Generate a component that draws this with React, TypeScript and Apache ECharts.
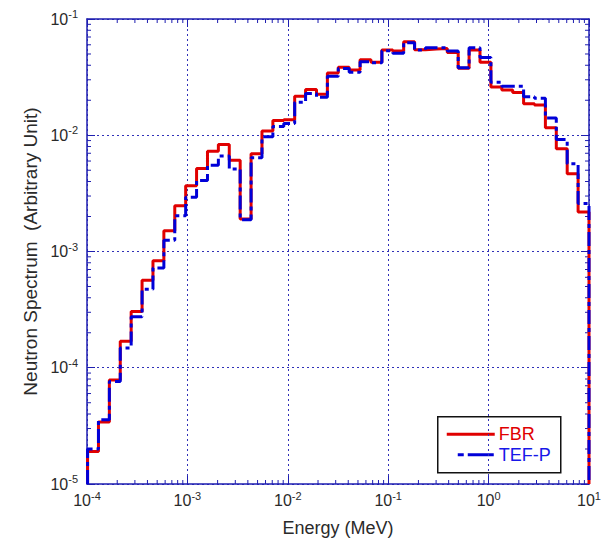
import React, { useEffect, useRef } from "react";
import * as echarts from "echarts";

// Group boundaries (MeV), equal lethargy width 0.25, ascending
const binEdges = [
  1.0130e-4, 1.3007e-4, 1.6702e-4, 2.1445e-4, 2.7536e-4, 3.5357e-4, 4.5400e-4, 5.8295e-4,
  7.4852e-4, 9.6112e-4, 1.2341e-3, 1.5846e-3, 2.0347e-3, 2.6126e-3, 3.3546e-3, 4.3074e-3,
  5.5308e-3, 7.1017e-3, 9.1188e-3, 1.1709e-2, 1.5034e-2, 1.9305e-2, 2.4788e-2, 3.1828e-2,
  4.0868e-2, 5.2475e-2, 6.7379e-2, 8.6517e-2, 0.11109, 0.14264, 0.18316, 0.23518,
  0.30197, 0.38774, 0.49787, 0.63928, 0.82085, 1.0540, 1.3534, 1.7377,
  2.2313, 2.8650, 3.6788, 4.7237, 6.0653, 7.7880, 10.0,
];

const fbrValues = [
  1.9e-5, 3.41e-5, 7.86e-5, 1.69e-4, 3.05e-4, 5.65e-4, 8.31e-4, 1.51e-3,
  2.47e-3, 3.68e-3, 5.18e-3, 7.3e-3, 8.32e-3, 6.1e-3, 1.9e-3, 6.93e-3,
  1.09e-2, 1.34e-2, 1.36e-2, 2.17e-2, 2.48e-2, 2.25e-2, 3.44e-2, 3.85e-2,
  3.65e-2, 4.46e-2, 4.24e-2, 5.41e-2, 5.31e-2, 6.37e-2, 5.45e-2, 5.52e-2,
  5.58e-2, 5.14e-2, 3.77e-2, 5.41e-2, 4.24e-2, 2.6e-2, 2.45e-2, 2.33e-2,
  1.87e-2, 1.82e-2, 1.16e-2, 7.64e-3, 4.67e-3, 2.19e-3,
];

const tefpValues = [
  2.0e-5, 3.57e-5, 7.62e-5, 1.48e-4, 2.75e-4, 4.74e-4, 7.23e-4, 1.25e-3,
  2.03e-3, 2.93e-3, 4.08e-3, 5.53e-3, 6.62e-3, 5.12e-3, 1.88e-3, 6.41e-3,
  9.7e-3, 1.19e-2, 1.26e-2, 1.92e-2, 2.29e-2, 2.12e-2, 3.21e-2, 3.76e-2,
  3.49e-2, 4.28e-2, 4.2e-2, 5.32e-2, 5.07e-2, 6.24e-2, 5.4e-2, 5.66e-2,
  5.66e-2, 5.31e-2, 3.8e-2, 5.66e-2, 4.67e-2, 2.85e-2, 2.64e-2, 2.64e-2,
  2.14e-2, 2.08e-2, 1.41e-2, 9.2e-3, 5.7e-3, 2.59e-3,
];

const seriesNames = ["FBR", "TEF-P"];
const xRange = [1e-4, 10];
const yRange = [1e-5, 1e-1];
const xTitle = "Energy (MeV)";
const yTitle = "Neutron Spectrum  (Arbitrary Unit)";

const FONT = "'Liberation Sans', Arial, sans-serif";
const AXIS_COLOR = "#1e1eb0";
const GRID_COLOR = "#3030b8";
const LABEL_COLOR = "#2a2a2a";
const RED = "#e00000";
const BLUE = "#0000d8";

function stepPoints(vals: number[]) {
  const pts: number[][] = [[binEdges[0], yRange[0]]];
  vals.forEach((v, i) => {
    pts.push([binEdges[i], v]);
    pts.push([binEdges[i + 1], v]);
  });
  pts.push([binEdges[binEdges.length - 1], yRange[0]]);
  return pts;
}

function minorValues(lo: number, hi: number) {
  const out: number[] = [];
  for (let d = lo; d < hi; d *= 10) {
    for (let m = 2; m <= 9; m++) out.push(d * m);
  }
  return out;
}

const expLabel = (value: number) => {
  const e = Math.round(Math.log10(value));
  return "{b|10}{s|" + e + "}";
};

const richLabel = {
  b: { fontSize: 16, fontFamily: FONT, color: LABEL_COLOR },
  s: { fontSize: 11, fontFamily: FONT, color: LABEL_COLOR, padding: [0, 0, 10, 0] },
};

export default function App() {
  const ref = useRef<HTMLDivElement>(null);

  useEffect(() => {
    if (!ref.current) return;
    const chart = echarts.init(ref.current, null, { renderer: "svg" });

    const tickLineStyle = { color: AXIS_COLOR, width: 1 };
    const baseAxis = {
      type: "log" as const,
      logBase: 10,
      axisLine: { show: true, lineStyle: { color: AXIS_COLOR, width: 1.5 } },
      axisTick: { show: true, inside: true, length: 8, lineStyle: tickLineStyle },
      minorTick: { show: false },
    };

    const xMinor = minorValues(xRange[0], xRange[1]).map((v) => [v, 1e-3]);
    const yMinor = minorValues(yRange[0], yRange[1]).map((v) => [1, v]);

    const lgX = 437;
    const lgY = 416;
    const gridLine = { show: true, lineStyle: { color: GRID_COLOR, type: [2, 3], width: 1 } };

    chart.setOption({
      animation: false,
      backgroundColor: "#ffffff",
      grid: { left: 87, top: 19, width: 502, height: 475, containLabel: false },
      graphic: [
        {
          type: "group",
          left: lgX,
          top: lgY,
          z: 100,
          children: [
            {
              type: "rect",
              shape: { x: 0, y: 0, width: 123, height: 56 },
              style: { fill: "#ffffff", stroke: "#111111", lineWidth: 1.5 },
            },
            {
              type: "line",
              shape: { x1: 9, y1: 17.5, x2: 57, y2: 17.5 },
              style: { stroke: RED, lineWidth: 3 },
            },
            {
              type: "text",
              x: 61,
              y: 17.5,
              style: {
                text: seriesNames[0],
                fill: RED,
                font: "18px " + FONT,
                verticalAlign: "middle",
              },
            },
            {
              type: "line",
              shape: { x1: 20, y1: 38, x2: 56, y2: 38 },
              style: { stroke: BLUE, lineWidth: 3, lineDash: [6, 4, 30, 0] },
            },
            {
              type: "text",
              x: 61,
              y: 38,
              style: {
                text: seriesNames[1],
                fill: "#1818e8",
                font: "18px " + FONT,
                verticalAlign: "middle",
              },
            },
          ],
        },
      ],
      xAxis: [
        {
          ...baseAxis,
          min: xRange[0],
          max: xRange[1],
          position: "bottom",
          name: xTitle,
          nameLocation: "middle",
          nameGap: 35,
          nameTextStyle: { fontFamily: FONT, fontSize: 18, color: LABEL_COLOR },
          axisLabel: { formatter: expLabel, rich: richLabel, margin: 6 },
          splitLine: gridLine,
        },
        {
          ...baseAxis,
          min: xRange[0],
          max: xRange[1],
          position: "top",
          axisLabel: { show: false },
          splitLine: { show: false },
        },
      ],
      yAxis: [
        {
          ...baseAxis,
          min: yRange[0],
          max: yRange[1],
          position: "left",
          name: yTitle,
          nameLocation: "middle",
          nameGap: 46,
          nameTextStyle: { fontFamily: FONT, fontSize: 19, color: LABEL_COLOR },
          axisLabel: { formatter: expLabel, rich: richLabel, margin: 9 },
          splitLine: gridLine,
        },
        {
          ...baseAxis,
          min: yRange[0],
          max: yRange[1],
          position: "right",
          axisLabel: { show: false },
          splitLine: { show: false },
        },
      ],
      series: [
        {
          type: "custom",
          name: "xminor",
          silent: true,
          xAxisIndex: 0,
          yAxisIndex: 0,
          data: xMinor,
          clip: false,
          renderItem: (params: any, api: any) => {
            const p = api.coord([api.value(0), api.value(1)]);
            const cs = params.coordSys;
            const st = { stroke: AXIS_COLOR, lineWidth: 1 };
            return {
              type: "group",
              children: [
                { type: "line", shape: { x1: p[0], y1: cs.y + cs.height, x2: p[0], y2: cs.y + cs.height - 4 }, style: st },
                { type: "line", shape: { x1: p[0], y1: cs.y, x2: p[0], y2: cs.y + 4 }, style: st },
              ],
            };
          },
        },
        {
          type: "custom",
          name: "yminor",
          silent: true,
          xAxisIndex: 0,
          yAxisIndex: 0,
          data: yMinor,
          clip: false,
          renderItem: (params: any, api: any) => {
            const p = api.coord([api.value(0), api.value(1)]);
            const cs = params.coordSys;
            const st = { stroke: AXIS_COLOR, lineWidth: 1 };
            return {
              type: "group",
              children: [
                { type: "line", shape: { x1: cs.x, y1: p[1], x2: cs.x + 4, y2: p[1] }, style: st },
                { type: "line", shape: { x1: cs.x + cs.width, y1: p[1], x2: cs.x + cs.width - 4, y2: p[1] }, style: st },
              ],
            };
          },
        },
        {
          type: "line",
          name: seriesNames[0],
          data: stepPoints(fbrValues),
          showSymbol: false,
          symbol: "none",
          color: RED,
          lineStyle: { color: RED, width: 3 },
          z: 3,
        },
        {
          type: "line",
          name: seriesNames[1],
          data: stepPoints(tefpValues),
          showSymbol: false,
          symbol: "none",
          color: BLUE,
          lineStyle: { color: BLUE, width: 3, type: [14, 4, 4, 4] },
          z: 4,
        },
      ],
    });

    return () => chart.dispose();
  }, []);

  return (
    <div
      ref={ref}
      style={{ position: "fixed", left: 0, top: 0, width: 607, height: 542, background: "#fff" }}
    />
  );
}
